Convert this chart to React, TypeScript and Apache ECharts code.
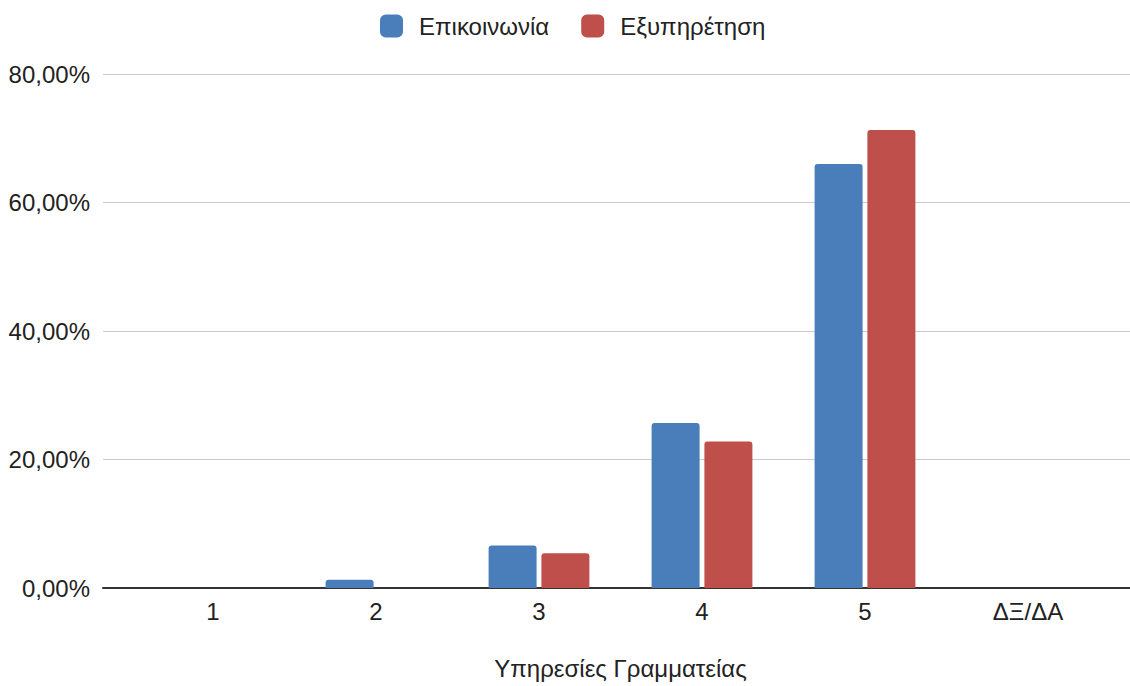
import React, { useEffect, useRef } from "react";
import * as echarts from "echarts";

const categories = ["1", "2", "3", "4", "5", "ΔΞ/ΔΑ"];
const seriesNames = ["Επικοινωνία", "Εξυπηρέτηση"];
const communication = [0, 1.3, 6.6, 25.7, 66.0, 0];
const service = [0, 0, 5.4, 22.8, 71.3, 0];
const xAxisTitle = "Υπηρεσίες Γραμματείας";

const FONT = "'Liberation Sans', Arial, sans-serif";
const FS = 24;

export default function App() {
  const ref = useRef<HTMLDivElement>(null);
  useEffect(() => {
    document.body.style.margin = "0";
    const chart = echarts.init(ref.current!, null, { renderer: "svg" });
    const fmt = (v: number) => v.toFixed(2).replace(".", ",") + "%";
    chart.setOption({
      animation: false,
      textStyle: { fontFamily: FONT },
      legend: {
        top: 9,
        left: 375,
        itemWidth: 23,
        itemHeight: 23,
        itemGap: 32,
        icon: "roundRect",
        data: seriesNames,
        textStyle: { fontSize: FS, color: "#222", fontFamily: FONT, padding: [0, 0, 0, 11] },
      },
      grid: [
        { left: 103, right: 0, top: 74, bottom: 98, outerBoundsMode: "none", containLabel: false },
        { left: 131.5, right: 20.5, top: 74, bottom: 98, outerBoundsMode: "none", containLabel: false },
      ],
      xAxis: [
        {
          type: "category",
          gridIndex: 0,
          data: [""],
          axisLine: { lineStyle: { color: "#333", width: 2 } },
          axisTick: { show: false },
          axisLabel: { show: false },
        },
        {
          type: "category",
          gridIndex: 1,
          data: categories,
          axisLine: { show: false },
          axisTick: { show: false },
          axisLabel: { fontSize: FS, color: "#222", margin: 11, fontFamily: FONT },
          name: xAxisTitle,
          nameLocation: "middle",
          nameGap: 68,
          nameTextStyle: { fontSize: FS, color: "#222", fontFamily: FONT },
        },
      ],
      yAxis: [
        {
          type: "value",
          gridIndex: 0,
          min: 0,
          max: 80,
          interval: 20,
          axisLine: { show: false },
          axisTick: { show: false },
          axisLabel: { fontSize: FS, color: "#222", margin: 13, formatter: fmt, fontFamily: FONT },
          splitLine: { lineStyle: { color: "#cccccc", width: 1 } },
        },
        {
          type: "value",
          gridIndex: 1,
          min: 0,
          max: 80,
          interval: 20,
          axisLine: { show: false },
          axisTick: { show: false },
          axisLabel: { show: false },
          splitLine: { show: false },
        },
      ],
      series: [
        {
          name: seriesNames[0],
          type: "bar",
          xAxisIndex: 1,
          yAxisIndex: 1,
          data: communication,
          barWidth: 48,
          barGap: "10%",
          itemStyle: { color: "#4a7ebb", borderRadius: [3, 3, 0, 0] },
        },
        {
          name: seriesNames[1],
          type: "bar",
          xAxisIndex: 1,
          yAxisIndex: 1,
          data: service,
          barWidth: 48,
          barGap: "10%",
          itemStyle: { color: "#be4f4b", borderRadius: [3, 3, 0, 0] },
        },
      ],
    });
    return () => chart.dispose();
  }, []);
  return <div ref={ref} style={{ width: 1130, height: 686 }} />;
}
